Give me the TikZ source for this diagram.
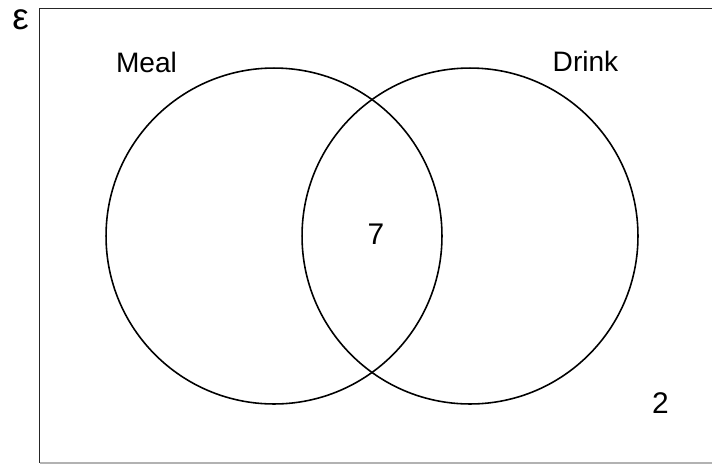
\documentclass[tikz,border=0pt]{standalone}
\usepackage{fontspec}
\setmainfont{Liberation Sans}
\usepackage{tikz}
\usetikzlibrary{positioning}

\begin{document}
\begin{tikzpicture}[
  x=0.02cm, y=-0.02cm,
  setcircle/.style={draw, circle, line width=0.9pt, minimum size=6.72cm, inner sep=0pt},
  setlabel/.style={font=\fontsize{16}{19}\selectfont, anchor=base, inner sep=0pt},
  frame/.style={line width=1pt, color=black!85}
]
  \useasboundingbox (0,0) rectangle (712,464);
  \clip (0,0) rectangle (712,464);

  % universal set
  \coordinate (ul) at (39.5,8.5);
  \coordinate (ll) at (39.5,463);
  \coordinate (ur) at (716,8.5);
  \coordinate (lr) at (716,463);
  \draw[frame] (ur) -- (ul) -- (ll);
  \draw[frame, color=black!30] (ll) -- (lr);
  \node[setlabel, font=\fontsize{21}{24}\selectfont] (eps) at (20.5,29) {ε};

  % the two sets
  \node[setcircle] (meal)  at (274,236) {};
  \node[setcircle] (drink) at (470,236) {};
  \node[setlabel] (meallbl)  at (146.5,72) {Meal};
  \node[setlabel] (drinklbl) at (585.5,71) {Drink};

  % counts
  \node[setlabel, font=\fontsize{17}{20}\selectfont] (both) at (376,244) {7};
  \node[setlabel, font=\fontsize{17}{20}\selectfont] (none) at (660.5,413) {2};
\end{tikzpicture}
\end{document}
